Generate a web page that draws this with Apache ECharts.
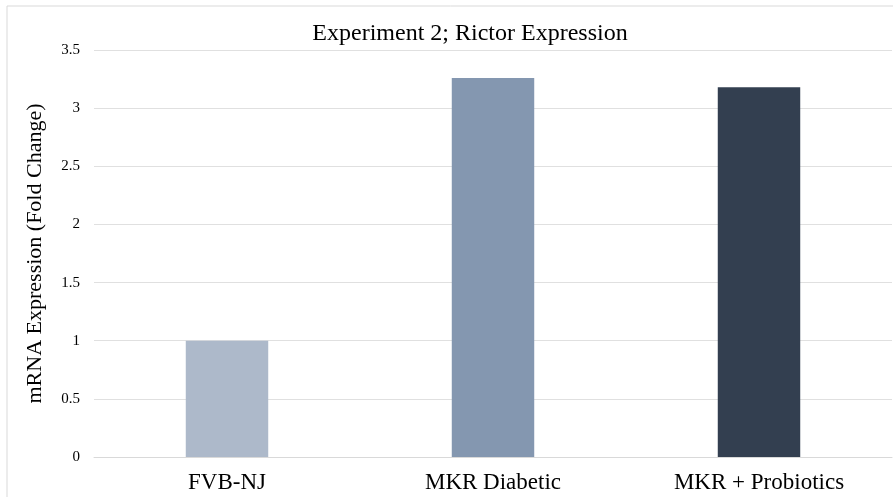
<!DOCTYPE html>
<html><head><meta charset="utf-8">
<script src="https://cdn.jsdelivr.net/npm/echarts@6/dist/echarts.min.js"></script>
<style>html,body{margin:0;padding:0;background:#fff}#c{width:893px;height:497px}</style>
</head><body><div id="c"></div>
<script>
const categories = ["FVB-NJ", "MKR Diabetic", "MKR + Probiotics"];
const values = [1.0, 3.26, 3.18];
const barColors = ["#adb9ca", "#8497b0", "#333f50"];
const yTicks = [0, 0.5, 1, 1.5, 2, 2.5, 3, 3.5];

const chart = echarts.init(document.getElementById('c'));
const serif = '"Liberation Serif", "Times New Roman", serif';
chart.setOption({
  animation: false,
  title: {
    text: "Experiment 2; Rictor Expression",
    left: 465, top: 17, textAlign: 'center',
    textStyle: { fontFamily: serif, fontSize: 24, fontWeight: 'normal', color: '#000' }
  },
  graphic: [{
    type: 'rect', shape: { x: 7, y: 6, width: 900, height: 500 },
    style: { fill: 'none', stroke: '#d9d9d9', lineWidth: 1 }, silent: true
  }],
  grid: { left: 94, right: 1, top: 50, bottom: 40 },
  xAxis: {
    type: 'category', data: categories,
    axisTick: { show: false },
    axisLine: { lineStyle: { color: '#d9d9d9' } },
    axisLabel: { fontFamily: serif, fontSize: 23, color: '#000', margin: 14 }
  },
  yAxis: {
    type: 'value', min: 0, max: 3.5, interval: 0.5,
    name: "mRNA Expression (Fold Change)", nameLocation: 'middle', nameGap: 48,
    nameTextStyle: { fontFamily: serif, fontSize: 22, color: '#000' },
    axisLabel: { fontFamily: serif, fontSize: 15, color: '#000', margin: 14,
      formatter: v => yTicks.includes(v) ? String(v) : '' },
    splitLine: { lineStyle: { color: '#e0e0e0' } },
    axisLine: { show: false }, axisTick: { show: false }
  },
  series: [{
    type: 'bar', barWidth: '31%',
    data: values.map((v, i) => ({ value: v, itemStyle: { color: barColors[i] } }))
  }]
});
</script></body></html>
